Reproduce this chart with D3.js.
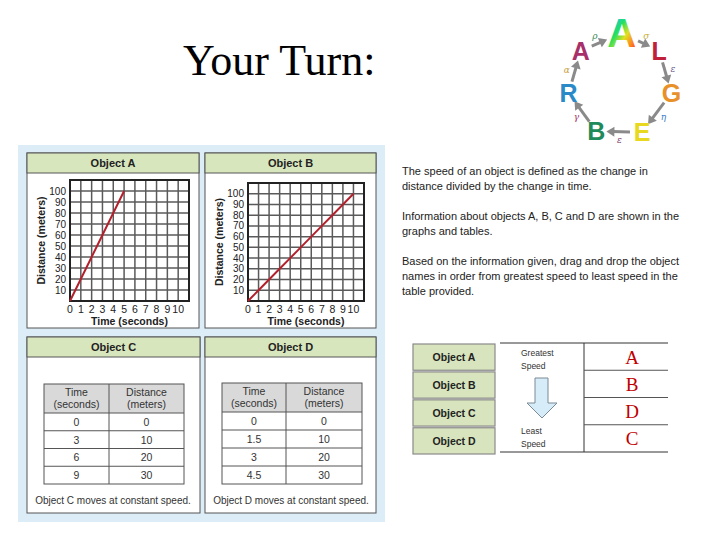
<!DOCTYPE html>
<html>
<head>
<meta charset="utf-8">
<script src="https://cdn.jsdelivr.net/npm/d3@7"></script>
<style>
  body { margin: 0; background: #fff; }
  svg { display: block; }
</style>
</head>
<body>
<div id="slide"></div>
<script>
// values
var timeTicks = [0, 1, 2, 3, 4, 5, 6, 7, 8, 9, 10];
var distTicks = [10, 20, 30, 40, 50, 60, 70, 80, 90, 100];
var objATime = [0, 1, 2, 3, 4, 5];
var objADist = [0, 20, 40, 60, 80, 100];
var objBTime = [0, 1, 2, 3, 4, 5, 6, 7, 8, 9, 10];
var objBDist = [0, 10, 20, 30, 40, 50, 60, 70, 80, 90, 100];
var tableCTime = ["0", "3", "6", "9"];
var tableCDist = ["0", "10", "20", "30"];
var tableDTime = ["0", "1.5", "3", "4.5"];
var tableDDist = ["0", "10", "20", "30"];
var objectNames = ["Object A", "Object B", "Object C", "Object D"];
var answerOrder = ["A", "B", "D", "C"];
var instructions = [
  "The speed of an object is defined as the change in",
  "distance divided by the change in time.",
  "",
  "Information about objects A, B, C and D are shown in the",
  "graphs and tables.",
  "",
  "Based on the information given, drag and drop the object",
  "names in order from greatest speed to least speed in the",
  "table provided."
];
var logoLetters = ["A", "L", "G", "E", "B", "R", "A"];
var logoColors = ["url(#rainbow)", "#c0203a", "#e8902a", "#e8d820", "#1f8a5a", "#2a8ac8", "#a8306a"];
var logoAngles = [-88, -41, 9, 65, 117, 171, 221];
var logoGreek = ["σ", "ε", "η", "ε", "γ", "α", "ρ"];
var greekColors = ["#c8b040", "#6a5a8a", "#3a7ac8", "#7a3a6a", "#a03060", "#c8a040", "#3a8a5a"];

var width = 720, height = 540;
var svg = d3.select("#slide")
  .append("svg")
    .attr("width", width)
    .attr("height", height);

var defs = svg.append("defs");
var grad = defs.append("linearGradient")
    .attr("id", "rainbow")
    .attr("x1", "0%").attr("y1", "0%").attr("x2", "100%").attr("y2", "100%");
["#2040ff", "#20c0ff", "#20e060", "#e0e020", "#ff8020", "#e02020"].forEach(function(c, i) {
  grad.append("stop").attr("offset", (i * 20) + "%").attr("stop-color", c);
});

// title
svg.append("text")
    .attr("x", 183)
    .attr("y", 75)
    .attr("font-family", "Liberation Serif, Times New Roman, serif")
    .attr("font-size", 44)
    .attr("fill", "#000")
    .text("Your Turn:");

// algebra ring logo
var cx = 620, cy = 85, r = 52;
var logoPos = logoAngles.map(function(a) {
  var t = a * Math.PI / 180;
  return [cx + r * Math.cos(t), cy + r * Math.sin(t)];
});
var logo = svg.append("g");
for (var i = 0; i < logoPos.length; i++) {
  var p0 = logoPos[i], p1 = logoPos[(i + 1) % logoPos.length];
  var dx = p1[0] - p0[0], dy = p1[1] - p0[1], len = Math.sqrt(dx * dx + dy * dy);
  var ux = dx / len, uy = dy / len;
  var s0 = (i == 0) ? 18 : 12, s1 = ((i + 1) % logoPos.length == 0) ? 19 : 13;
  var sx = p0[0] + ux * s0, sy = p0[1] + uy * s0, ex = p1[0] - ux * s1, ey = p1[1] - uy * s1;
  logo.append("line")
      .attr("x1", sx).attr("y1", sy).attr("x2", ex - ux * 3).attr("y2", ey - uy * 3)
      .attr("stroke", "#8a8a8a").attr("stroke-width", 3);
  logo.append("path")
      .attr("d", "M" + (ex + ux * 3) + "," + (ey + uy * 3) +
        "L" + (ex - ux * 5 - uy * 5) + "," + (ey - uy * 5 + ux * 5) +
        "L" + (ex - ux * 5 + uy * 5) + "," + (ey - uy * 5 - ux * 5) + "Z")
      .attr("fill", "#8a8a8a");
  logo.append("text")
      .attr("x", (sx + ex) / 2 + uy * 8)
      .attr("y", (sy + ey) / 2 - ux * 8 + 3)
      .attr("text-anchor", "middle")
      .attr("font-family", "DejaVu Serif, serif")
      .attr("font-style", "italic")
      .attr("font-size", 9)
      .attr("fill", greekColors[i])
      .text(logoGreek[i]);
}
logo.selectAll("text.letter")
  .data(logoLetters)
  .enter().append("text")
    .attr("class", "letter")
    .attr("x", function(d, i) { return logoPos[i][0]; })
    .attr("y", function(d, i) { return logoPos[i][1] + (i == 0 ? 14 : 9); })
    .attr("text-anchor", "middle")
    .attr("font-family", "Liberation Sans, Arial, sans-serif")
    .attr("font-weight", "bold")
    .attr("font-size", function(d, i) { return i == 0 ? 40 : 25; })
    .attr("fill", function(d, i) { return logoColors[i]; })
    .text(function(d) { return d; });

// left blue frame
svg.append("rect")
    .attr("x", 18).attr("y", 145)
    .attr("width", 367).attr("height", 377)
    .attr("fill", "#dcedf8");

var sans = "Liberation Sans, Arial, sans-serif";

function drawPanel(x, y, w, h, title) {
  var g = svg.append("g");
  g.append("rect")
      .attr("x", x).attr("y", y).attr("width", w).attr("height", h)
      .attr("fill", "#fff").attr("stroke", "#555").attr("stroke-width", 1);
  g.append("rect")
      .attr("x", x).attr("y", y).attr("width", w).attr("height", 20)
      .attr("fill", "#d8e6bd").attr("stroke", "#555").attr("stroke-width", 1);
  g.append("text")
      .attr("x", x + w / 2).attr("y", y + 14)
      .attr("text-anchor", "middle")
      .attr("font-family", sans).attr("font-weight", "bold").attr("font-size", 11)
      .attr("fill", "#222")
      .text(title);
  return g;
}

function drawGraph(g, left, right, top, bottom, times, dists, yLabelX) {
  var x = d3.scaleLinear().domain([0, 11]).range([left, right]);
  var y = d3.scaleLinear().domain([0, 110]).range([bottom, top]);
  var grid = g.append("g");
  d3.range(1, 11).forEach(function(v) {
    grid.append("line")
        .attr("x1", x(v)).attr("x2", x(v)).attr("y1", top).attr("y2", bottom)
        .attr("stroke", "#5a5a5a").attr("stroke-width", 1.5);
  });
  d3.range(1, 11).forEach(function(v) {
    grid.append("line")
        .attr("x1", left).attr("x2", right).attr("y1", y(v * 10)).attr("y2", y(v * 10))
        .attr("stroke", "#5a5a5a").attr("stroke-width", 1.5);
  });
  g.append("rect")
      .attr("x", left).attr("y", top)
      .attr("width", right - left).attr("height", bottom - top)
      .attr("fill", "none").attr("stroke", "#222").attr("stroke-width", 2);
  // tick labels
  g.selectAll("text.xt")
    .data(timeTicks)
    .enter().append("text")
      .attr("x", function(d) { return x(d); })
      .attr("y", bottom + 12)
      .attr("text-anchor", "middle")
      .attr("font-family", sans).attr("font-size", 10.5).attr("fill", "#222")
      .text(function(d) { return d; });
  g.selectAll("text.yt")
    .data(distTicks)
    .enter().append("text")
      .attr("x", left - 4)
      .attr("y", function(d) { return y(d) + 3.5; })
      .attr("text-anchor", "end")
      .attr("font-family", sans).attr("font-size", 10).attr("fill", "#222")
      .text(function(d) { return d; });
  g.append("text")
      .attr("x", (left + right) / 2)
      .attr("y", bottom + 24)
      .attr("text-anchor", "middle")
      .attr("font-family", sans).attr("font-weight", "bold").attr("font-size", 10.5).attr("fill", "#222")
      .text("Time (seconds)");
  g.append("text")
      .attr("transform", "translate(" + yLabelX + "," + ((top + bottom) / 2) + ") rotate(-90)")
      .attr("text-anchor", "middle")
      .attr("font-family", sans).attr("font-weight", "bold").attr("font-size", 10.5).attr("fill", "#222")
      .text("Distance (meters)");
  // the line
  g.append("path")
      .datum(times.map(function(t, i) { return { t: t, d: dists[i] }; }))
      .attr("fill", "none")
      .attr("stroke", "#b3202c")
      .attr("stroke-width", 2)
      .attr("d", d3.line()
        .x(function(d) { return x(d.t); })
        .y(function(d) { return y(d.d); }));
}

function drawTable(g, left, right, split, top, bottom, times, dists, footer, footerX) {
  var headH = 29;
  var rowH = (bottom - top - headH) / times.length;
  g.append("rect")
      .attr("x", left).attr("y", top).attr("width", right - left).attr("height", headH)
      .attr("fill", "#d9d9d9");
  var rows = g.selectAll("g.row")
    .data(times)
    .enter().append("g");
  rows.append("line")
      .attr("x1", left).attr("x2", right)
      .attr("y1", function(d, i) { return top + headH + i * rowH; })
      .attr("y2", function(d, i) { return top + headH + i * rowH; })
      .attr("stroke", "#555").attr("stroke-width", 1);
  rows.append("text")
      .attr("x", (left + split) / 2)
      .attr("y", function(d, i) { return top + headH + i * rowH + rowH / 2 + 4; })
      .attr("text-anchor", "middle")
      .attr("font-family", sans).attr("font-size", 10.5).attr("fill", "#333")
      .text(function(d) { return d; });
  rows.append("text")
      .attr("x", (split + right) / 2)
      .attr("y", function(d, i) { return top + headH + i * rowH + rowH / 2 + 4; })
      .attr("text-anchor", "middle")
      .attr("font-family", sans).attr("font-size", 10.5).attr("fill", "#333")
      .text(function(d, i) { return dists[i]; });
  g.append("line")
      .attr("x1", split).attr("x2", split).attr("y1", top).attr("y2", bottom)
      .attr("stroke", "#555").attr("stroke-width", 1);
  g.append("rect")
      .attr("x", left).attr("y", top).attr("width", right - left).attr("height", bottom - top)
      .attr("fill", "none").attr("stroke", "#555").attr("stroke-width", 1);
  [["Time", "(seconds)", (left + split) / 2], ["Distance", "(meters)", (split + right) / 2]].forEach(function(h) {
    g.append("text")
        .attr("x", h[2]).attr("y", top + 12)
        .attr("text-anchor", "middle")
        .attr("font-family", sans).attr("font-size", 10.5).attr("fill", "#333")
        .text(h[0]);
    g.append("text")
        .attr("x", h[2]).attr("y", top + 24)
        .attr("text-anchor", "middle")
        .attr("font-family", sans).attr("font-size", 10.5).attr("fill", "#333")
        .text(h[1]);
  });
  g.append("text")
      .attr("x", footerX).attr("y", bottom + 20)
      .attr("text-anchor", "middle")
      .attr("font-family", sans).attr("font-size", 10).attr("fill", "#333")
      .text(footer);
}

var panelA = drawPanel(27, 153, 172, 175, "Object A");
drawGraph(panelA, 70, 189, 180, 301, objATime, objADist, 45);
var panelB = drawPanel(205, 153, 171, 175, "Object B");
drawGraph(panelB, 248, 364, 183, 301, objBTime, objBDist, 223);
var panelC = drawPanel(27, 337, 173, 176, "Object C");
drawTable(panelC, 44, 184, 109, 384, 484, tableCTime, tableCDist, "Object C moves at constant speed.", 113);
var panelD = drawPanel(205, 337, 171, 176, "Object D");
drawTable(panelD, 222, 362, 286, 383, 484, tableDTime, tableDDist, "Object D moves at constant speed.", 291);

// instructions on the right
svg.selectAll("text.inst")
  .data(instructions)
  .enter().append("text")
    .attr("x", 402)
    .attr("y", function(d, i) { return 175 + i * 15; })
    .attr("font-family", sans).attr("font-size", 11).attr("fill", "#222")
    .text(function(d) { return d; });

// object name buttons
var btnY = d3.scaleBand().domain(objectNames).range([344, 454]).paddingInner(0.06);
svg.selectAll("g.btn")
  .data(objectNames)
  .enter().append("g")
    .each(function(d) {
      var b = d3.select(this);
      b.append("rect")
          .attr("x", 413).attr("y", btnY(d))
          .attr("width", 82).attr("height", btnY.bandwidth())
          .attr("fill", "#d7e4bd").attr("stroke", "#8a8a8a").attr("stroke-width", 1.2);
      b.append("text")
          .attr("x", 454).attr("y", btnY(d) + btnY.bandwidth() / 2 + 4)
          .attr("text-anchor", "middle")
          .attr("font-family", sans).attr("font-weight", "bold").attr("font-size", 10.5).attr("fill", "#222")
          .text(d);
    });

// answer table
var ansY = d3.scaleBand().domain(answerOrder.map(function(d, i) { return i; })).range([343, 452]);
svg.append("line").attr("x1", 500).attr("x2", 668).attr("y1", 343).attr("y2", 343).attr("stroke", "#333").attr("stroke-width", 1);
svg.append("line").attr("x1", 500).attr("x2", 668).attr("y1", 452).attr("y2", 452).attr("stroke", "#333").attr("stroke-width", 1);
svg.append("line").attr("x1", 584).attr("x2", 584).attr("y1", 343).attr("y2", 452).attr("stroke", "#333").attr("stroke-width", 1);
svg.selectAll("line.ansrow")
  .data(answerOrder.slice(1))
  .enter().append("line")
    .attr("x1", 584).attr("x2", 668)
    .attr("y1", function(d, i) { return ansY(i + 1); })
    .attr("y2", function(d, i) { return ansY(i + 1); })
    .attr("stroke", "#555").attr("stroke-width", 1);
svg.selectAll("text.ans")
  .data(answerOrder)
  .enter().append("text")
    .attr("x", 632)
    .attr("y", function(d, i) { return ansY(i) + ansY.bandwidth() / 2 + 7; })
    .attr("text-anchor", "middle")
    .attr("font-family", "Liberation Serif, Times New Roman, serif")
    .attr("font-size", 19)
    .attr("fill", "#c00000")
    .text(function(d) { return d; });
svg.append("rect").attr("x", 514).attr("y", 344).attr("width", 60).attr("height", 107).attr("fill", "#fff");
[["Greatest", 356], ["Speed", 369], ["Least", 434], ["Speed", 447]].forEach(function(t) {
  svg.append("text")
      .attr("x", 521).attr("y", t[1])
      .attr("font-family", sans).attr("font-size", 8.5).attr("fill", "#333")
      .text(t[0]);
});
svg.append("path")
    .attr("d", "M535,378 L548,378 L548,403 L557,403 L542,418 L527,403 L535,403 Z")
    .attr("fill", "#d6ecf8").attr("stroke", "#7a8a96").attr("stroke-width", 1);
</script>
</body>
</html>
